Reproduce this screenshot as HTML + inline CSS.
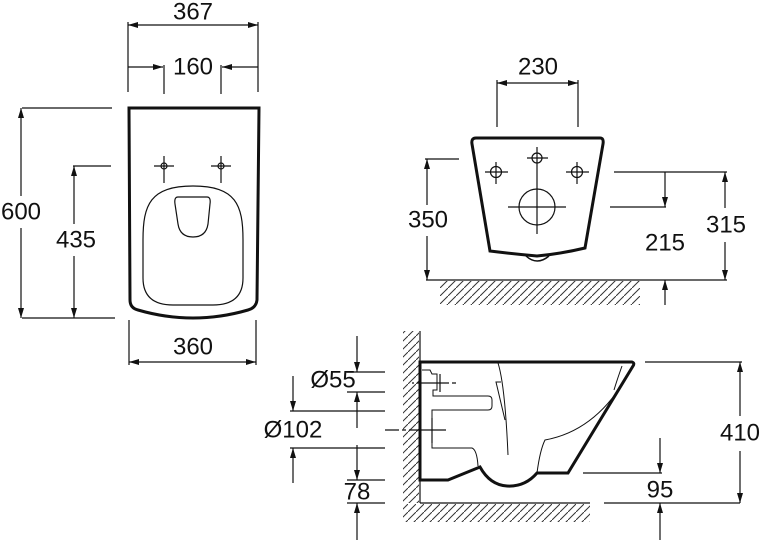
<!DOCTYPE html>
<html><head><meta charset="utf-8"><style>
html,body{margin:0;padding:0;background:#fff;}
svg{display:block;}
text{font-family:"Liberation Sans",Arial,sans-serif;font-size:24px;fill:#111;text-anchor:middle;dominant-baseline:central;}
</style></head><body>
<svg width="762" height="540" viewBox="0 0 762 540" xmlns="http://www.w3.org/2000/svg">
<defs>
<marker id="a" viewBox="0 0 10 6" refX="10" refY="3" markerWidth="10" markerHeight="6" markerUnits="userSpaceOnUse" orient="auto-start-reverse"><path d="M0,0L10,3L0,6z" fill="#111"/></marker>
<pattern id="h" width="8" height="8" patternUnits="userSpaceOnUse"><path d="M0,8L8,0" stroke="#333" stroke-width="1"/></pattern>
</defs>
<g stroke="#111" stroke-width="1.2" fill="none">
<!-- TOP LEFT VIEW -->
<line x1="128" y1="22" x2="128" y2="92"/><line x1="258" y1="22" x2="258" y2="92"/>
<line x1="128" y1="25" x2="258" y2="25" marker-start="url(#a)" marker-end="url(#a)"/>
<line x1="164" y1="65" x2="164" y2="94"/><line x1="221" y1="65" x2="221" y2="94"/>
<line x1="128" y1="67" x2="163" y2="67" marker-end="url(#a)"/>
<line x1="258" y1="67" x2="222" y2="67" marker-end="url(#a)"/>
<path d="M129,108 L259,108 L257,300 Q256,308 248,310 Q193,326 138,310 Q130,308 130,300 Z" stroke-width="3"/>
<g>
<line x1="154" y1="166" x2="174" y2="166"/><line x1="164" y1="156" x2="164" y2="183"/><circle cx="164" cy="166" r="3"/>
<line x1="211" y1="166" x2="231" y2="166"/><line x1="221" y1="156" x2="221" y2="183"/><circle cx="221" cy="166" r="3"/>
</g>
<path d="M193,186 C236,186 243,205 243,240 L243,278 Q243,305 213,305 L173,305 Q143,305 143,278 L143,240 C143,205 150,186 193,186 Z"/>
<path d="M178,197 L207,197 Q211,197 210,204 L208,224 Q206,237 193,237 Q180,237 178,224 L175,204 Q174,197 178,197 Z"/>
<line x1="22" y1="108" x2="112" y2="108"/><line x1="22" y1="318" x2="115" y2="318"/>
<line x1="21" y1="108" x2="21" y2="196" marker-start="url(#a)"/><line x1="21" y1="228" x2="21" y2="318" marker-end="url(#a)"/>
<line x1="73" y1="166" x2="111" y2="166"/>
<line x1="74" y1="166" x2="74" y2="224" marker-start="url(#a)"/><line x1="74" y1="256" x2="74" y2="318" marker-end="url(#a)"/>
<line x1="129" y1="320" x2="129" y2="365"/><line x1="256" y1="320" x2="256" y2="365"/>
<line x1="129" y1="362" x2="256" y2="362" marker-start="url(#a)" marker-end="url(#a)"/>

<!-- TOP RIGHT VIEW -->
<line x1="497" y1="80" x2="497" y2="127"/><line x1="578" y1="80" x2="578" y2="127"/>
<line x1="497" y1="83" x2="578" y2="83" marker-start="url(#a)" marker-end="url(#a)"/>
<path d="M476,138 L600,138 Q604,138 603,144 L585,248 Q560,254 537,256 Q514,254 490,251 L472,144 Q471,138 476,138 Z" stroke-width="3"/>
<path d="M526,256 Q537,266 549,256" stroke-width="1.5"/>
<line x1="537" y1="147" x2="537" y2="234"/>
<line x1="527" y1="158" x2="548" y2="158"/><circle cx="537" cy="158" r="5"/>
<line x1="485" y1="172" x2="508" y2="172"/><line x1="496" y1="162" x2="496" y2="184"/><circle cx="496" cy="172" r="5.5"/>
<line x1="566" y1="172" x2="589" y2="172"/><line x1="577" y1="162" x2="577" y2="184"/><circle cx="577" cy="172" r="5.5"/>
<circle cx="537" cy="207" r="18"/><line x1="508" y1="207" x2="566" y2="207"/>
<line x1="425" y1="159" x2="459" y2="159"/>
<line x1="427" y1="159" x2="427" y2="205" marker-start="url(#a)"/><line x1="427" y1="236" x2="427" y2="280" marker-end="url(#a)"/>
<line x1="426" y1="280" x2="727" y2="280"/>
<rect x="440" y="281" width="200" height="24" fill="url(#h)" stroke="none"/>
<line x1="614" y1="172" x2="727" y2="172"/>
<line x1="725" y1="172" x2="725" y2="208" marker-start="url(#a)"/><line x1="725" y1="242" x2="725" y2="280" marker-end="url(#a)"/>
<line x1="610" y1="207" x2="666" y2="207"/>
<line x1="665" y1="172" x2="665" y2="207" marker-end="url(#a)"/>
<line x1="665" y1="305" x2="665" y2="280" marker-end="url(#a)"/>

<!-- BOTTOM VIEW -->
<line x1="420" y1="331" x2="420" y2="503"/>
<rect x="403" y="331" width="16" height="172" fill="url(#h)" stroke="none"/>
<line x1="420" y1="503" x2="590" y2="503"/><line x1="604" y1="503" x2="740" y2="503"/>
<rect x="403" y="504" width="187" height="18" fill="url(#h)" stroke="none"/>
<path d="M420,362 L632,362 Q635,363 633,366 L568,473 L537,473 Q525,487 507,486 Q490,485 480,467 L448,480 L420,480 Z" stroke-width="3"/>
<path d="M622,366 Q617,380 614,390 M498,363 Q505,385 508,455 M501,382 L496,382 L505,420" stroke-width="1"/>
<path d="M632,367 Q600,430 545,440 Q540,450 537,473" stroke-width="1"/>
<path d="M422,370 L430,370 L432,374 L437,374 L437,390 L433,390 L433,396 L488,396 Q492,396 492,400 L492,406 Q492,410 488,410 L432,410 L432,448 L472,448 Q477,450 478,466" stroke-width="1"/>
<line x1="412" y1="383" x2="456" y2="383" stroke-dasharray="2,3 30,0"/><line x1="440" y1="374" x2="440" y2="392"/>
<line x1="385" y1="430" x2="446" y2="430" stroke-dasharray="14,3 4,3 40,0"/><line x1="432" y1="418" x2="432" y2="443"/>
<line x1="645" y1="362" x2="742" y2="362"/>
<line x1="740" y1="362" x2="740" y2="416" marker-start="url(#a)"/><line x1="740" y1="451" x2="740" y2="503" marker-end="url(#a)"/>
<line x1="583" y1="473" x2="662" y2="473"/>
<line x1="660" y1="438" x2="660" y2="473" marker-end="url(#a)"/>
<line x1="660" y1="540" x2="660" y2="503" marker-end="url(#a)"/>
<line x1="347" y1="372" x2="385" y2="372"/><line x1="347" y1="392" x2="385" y2="392"/>
<line x1="357" y1="336" x2="357" y2="372" marker-end="url(#a)"/>
<line x1="357" y1="428" x2="357" y2="392" marker-end="url(#a)"/>
<line x1="290" y1="411" x2="385" y2="411"/><line x1="290" y1="448" x2="385" y2="448"/>
<line x1="293" y1="376" x2="293" y2="411" marker-end="url(#a)"/>
<line x1="293" y1="483" x2="293" y2="448" marker-end="url(#a)"/>
<line x1="347" y1="480" x2="385" y2="480"/><line x1="347" y1="503" x2="385" y2="503"/>
<line x1="357" y1="445" x2="357" y2="480" marker-end="url(#a)"/>
<line x1="357" y1="540" x2="357" y2="503" marker-end="url(#a)"/>
</g>
<g>
<text x="193" y="12">367</text>
<text x="193" y="67">160</text>
<text x="21" y="212">600</text>
<text x="76" y="240">435</text>
<text x="193" y="347">360</text>
<text x="538" y="67">230</text>
<text x="428" y="220">350</text>
<text x="726" y="225">315</text>
<text x="665" y="243">215</text>
<text x="333" y="380">Ø55</text>
<text x="293" y="430">Ø102</text>
<text x="357" y="492">78</text>
<text x="740" y="433">410</text>
<text x="660" y="490">95</text>
</g>
</svg>
</body></html>
